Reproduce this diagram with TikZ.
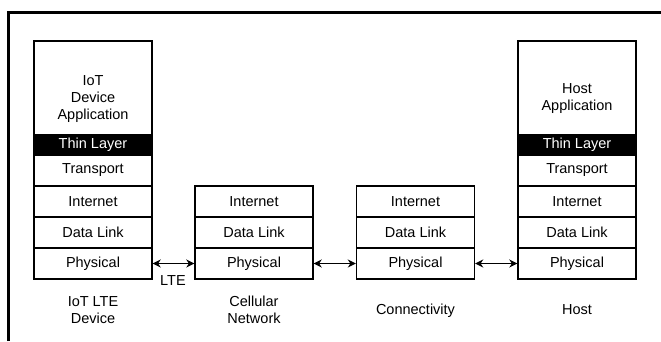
\documentclass[tikz,border=0pt]{standalone}
\usepackage{fontspec}
\setmainfont{Liberation Sans}
\usetikzlibrary{arrows.meta}
\begin{document}
\begin{tikzpicture}[x=1pt,y=-1pt,
  txt/.style={font=\fontsize{14.5}{17}\selectfont, inner sep=0pt, align=center},
  cell/.style={txt, draw, line width=1.4pt, minimum width=118pt, minimum height=31pt},
  thin/.style={cell, fill=black, text=white, minimum height=20pt},
  app/.style={draw, line width=1.4pt, minimum width=118pt, minimum height=94pt, inner sep=0pt},
  link/.style={line width=1.5pt, {Stealth[length=8pt,width=8pt]}-{Stealth[length=8pt,width=8pt]}},
  frame/.style={line width=3pt}]
\useasboundingbox (0,0) rectangle (661,341);
\draw[frame] (8,341) -- (8,12) -- (661,12);
% IoT LTE Device
\node[app]  (appL) at (93,88) {};
\node[txt]  (appLt) at (93,99) {IoT\\Device\\Application};
\node[thin] (thinL) at (93,145) {Thin Layer};
\node[cell] (trL) at (93,170.5) {Transport};
\node[cell] (inL) at (93,201.5) {Internet};
\node[cell] (dlL) at (93,232.5) {Data Link};
\node[cell] (phL) at (93,263.5) {Physical};
% Cellular network
\node[cell] (inC) at (254,201.5) {Internet};
\node[cell] (dlC) at (254,232.5) {Data Link};
\node[cell] (phC) at (254,263.5) {Physical};
% Connectivity
\node[cell] (inN) at (415.5,201.5) {Internet};
\node[cell] (dlN) at (415.5,232.5) {Data Link};
\node[cell] (phN) at (415.5,263.5) {Physical};
% Host
\node[app]  (appH) at (577,88) {};
\node[txt]  (appHt) at (577,99) {Host\\Application};
\node[thin] (thinH) at (577,145) {Thin Layer};
\node[cell] (trH) at (577,170.5) {Transport};
\node[cell] (inH) at (577,201.5) {Internet};
\node[cell] (dlH) at (577,232.5) {Data Link};
\node[cell] (phH) at (577,263.5) {Physical};
% links
\draw[link] (phL.east) -- (phC.west);
\draw[link] (phC.east) -- (phN.west);
\draw[link] (phN.east) -- (phH.west);
\node[txt] (lte) at (173,281) {LTE};
% captions
\node[txt] (capL) at (93,310) {IoT LTE\\Device};
\node[txt] (capC) at (254,310) {Cellular\\Network};
\node[txt] (capN) at (415.5,311) {Connectivity};
\node[txt] (capH) at (577,310) {Host};
\end{tikzpicture}
\end{document}
